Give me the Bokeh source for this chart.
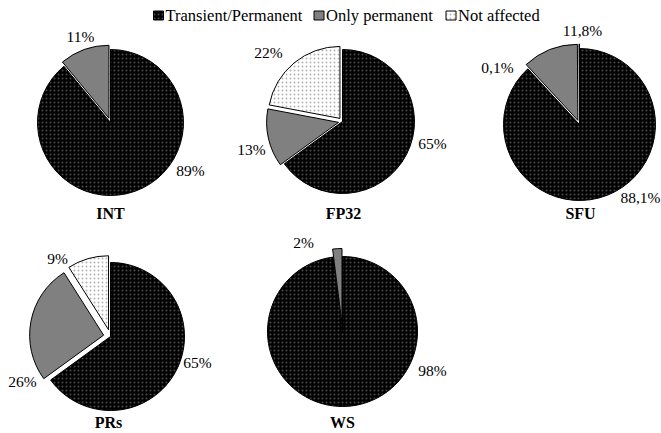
import math
from bokeh.plotting import figure
from bokeh.models import Range1d, ColumnDataSource
from bokeh.core.properties import value
from bokeh.embed import file_html
from bokeh.resources import INLINE

# ---- data ----
groups = ["INT", "FP32", "SFU", "PRs", "WS"]
series = ["Transient/Permanent", "Only permanent", "Not affected"]
transient_permanent = [89, 65, 88.1, 65, 98]
only_permanent = [11, 13, 11.8, 26, 2]
not_affected = [0, 22, 0.1, 9, 0]

# ---- layout (page pixel coordinates) ----
W, H = 661, 433
centers = [(110, 122), (342, 121), (579, 124), (110, 336), (342, 331)]
radii = [73, 72, 76, 74, 75]
explode = [4.5, 4, 4.5, 7, 8]
label_pos = [
    [(190, 170), (80, 36), None],
    [(432, 143), (251, 149), (268, 52)],
    [(640, 197), (582, 30), (497, 67)],
    [(197, 362), (22, 381), (57, 258)],
    [(432, 370), (303, 242), None],
]
title_pos = [(110, 213), (343, 213), (580, 213), (108, 422), (342, 422)]
legend_sq_x = [158, 318.5, 450.5]
legend_y = 15

fills = ["black", "#808080", "white"]
hatch_cols = ["#4a4a4a", None, "#b4b4b4"]
FONT = "Liberation Serif"


def Y(y):
    return H - y


def fmt(v):
    if float(v).is_integer():
        return "%d%%" % int(v)
    return ("%.1f%%" % v).replace(".", ",")


p = figure(width=W, height=H, output_backend="svg", toolbar_location=None,
           x_range=Range1d(0, W), y_range=Range1d(0, H),
           min_border=0)
p.axis.visible = False
p.grid.visible = False
p.outline_line_color = None
p.background_fill_color = "white"
p.border_fill_color = "white"

vals = [transient_permanent, only_permanent, not_affected]

for s in range(3):
    xs, ys, rs, sa, ea = [], [], [], [], []
    for g in range(len(groups)):
        total = sum(vals[k][g] for k in range(3))
        c0 = sum(vals[k][g] for k in range(s)) / total
        c1 = c0 + vals[s][g] / total
        if vals[s][g] <= 0:
            continue
        a_start = math.pi / 2 - 2 * math.pi * c1
        a_end = math.pi / 2 - 2 * math.pi * c0
        mid = (a_start + a_end) / 2
        e = explode[g] if s > 0 else 0
        cx, cy = centers[g]
        xs.append(cx + e * math.cos(mid))
        ys.append(Y(cy) + e * math.sin(mid))
        rs.append(radii[g])
        sa.append(a_start)
        ea.append(a_end)
    src = ColumnDataSource(dict(x=xs, y=ys, r=rs, sa=sa, ea=ea))
    kw = {}
    if hatch_cols[s]:
        kw = dict(hatch_pattern="dot", hatch_scale=4, hatch_weight=1,
                  hatch_color=hatch_cols[s])
    p.wedge(x="x", y="y", radius="r", start_angle="sa", end_angle="ea",
            direction="anticlock", source=src, fill_color=fills[s],
            line_color="black", line_width=1, **kw)

    # legend swatch
    p.rect(x=[legend_sq_x[s]], y=[Y(legend_y)], width=10, height=9,
           fill_color=fills[s], line_color="black", line_width=1, **kw)
    p.text(x=[legend_sq_x[s] + 7], y=[Y(legend_y)], text=[series[s]],
           text_font=value(FONT), text_font_size="16.5px",
           text_align="left", text_baseline="middle", text_color="black")

# percentage labels
lx, ly, lt = [], [], []
for g in range(len(groups)):
    for s in range(3):
        pos = label_pos[g][s]
        if pos is None or vals[s][g] <= 0:
            continue
        lx.append(pos[0])
        ly.append(Y(pos[1]))
        lt.append(fmt(vals[s][g]))
p.text(x=lx, y=ly, text=lt, text_font=value(FONT), text_font_size="15.5px",
       text_align="center", text_baseline="middle", text_color="black")

# titles
p.text(x=[t[0] for t in title_pos], y=[Y(t[1]) for t in title_pos], text=groups,
       text_font=value(FONT), text_font_size="16px", text_font_style="bold",
       text_align="center", text_baseline="middle", text_color="black")

open("out.html", "w").write(file_html(p, INLINE))
